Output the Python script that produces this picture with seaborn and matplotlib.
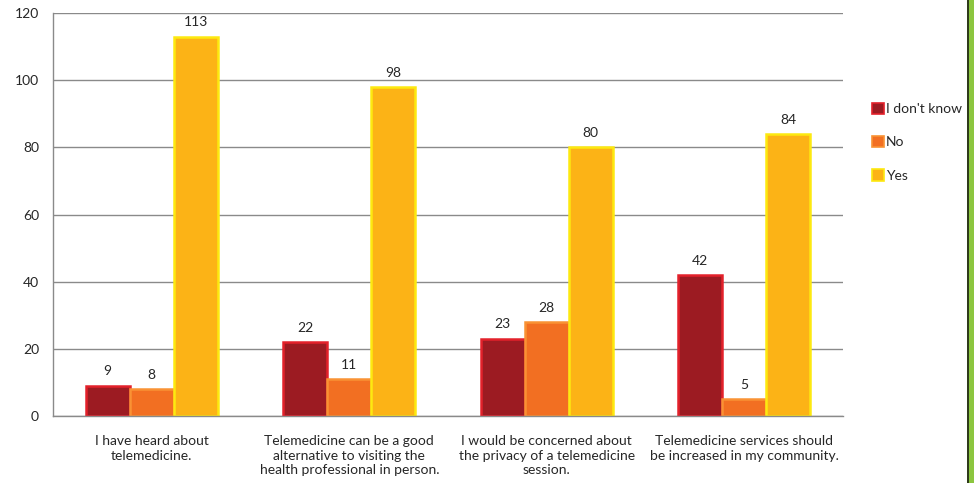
import matplotlib
matplotlib.use("Agg")
import matplotlib.pyplot as plt
import matplotlib.patches as mpatches
import numpy as np
import pandas as pd
import seaborn as sns

statements = [
    "I have heard about\ntelemedicine.",
    "Telemedicine can be a good\nalternative to visiting the\nhealth professional in person.",
    "I would be concerned about\nthe privacy of a telemedicine\nsession.",
    "Telemedicine services should\nbe increased in my community.",
]
responses = ["I don't know", "No", "Yes"]
dont_know = [9, 22, 23, 42]
no = [8, 11, 28, 5]
yes = [113, 98, 80, 84]

face_colors = ["#9c1b22", "#f26f22", "#fcb316"]
edge_colors = ["#e3212b", "#f99234", "#fde910"]

df = pd.DataFrame({
    "statement": statements * 3,
    "response": [r for r in responses for _ in statements],
    "count": dont_know + no + yes,
})

sns.set_style("white")
plt.rcParams["font.family"] = ["Lato", "DejaVu Sans"]
text_color = "#262626"

fig = plt.figure(figsize=(9.74, 4.83), dpi=100)
ax = fig.add_axes([53 / 974, 67 / 483, 790 / 974, 403 / 483])

sns.barplot(
    data=df, x="statement", y="count", hue="response",
    order=statements, hue_order=responses,
    palette=face_colors, width=0.67, gap=0, ax=ax, legend=False,
    saturation=1,
)

for cont, ec in zip(ax.containers, edge_colors):
    for patch in cont:
        patch.set_edgecolor(ec)
        patch.set_linewidth(1.8)
    ax.bar_label(cont, padding=6, fontsize=10, color=text_color)

ax.set_xlim(-0.5, len(statements) - 0.5)
ax.set_ylim(0, 120)
ax.set_yticks(np.arange(0, 121, 20))
ax.grid(axis="y", color="#8a8a8a", linewidth=1.0)
ax.set_axisbelow(True)
ax.set_xlabel("")
ax.set_ylabel("")

for side in ["top", "right"]:
    ax.spines[side].set_visible(False)
for side in ["left", "bottom"]:
    ax.spines[side].set_color("#8a8a8a")
    ax.spines[side].set_linewidth(1.0)

ax.tick_params(axis="y", length=6, color="#8a8a8a", labelsize=10, labelcolor=text_color, pad=4)
ax.tick_params(axis="x", which="major", length=0, labelsize=10, labelcolor=text_color, pad=14)
ax.set_xticks(np.arange(-0.5, len(statements)), minor=True)
ax.tick_params(axis="x", which="minor", length=5, color="#8a8a8a")
for lbl in ax.get_xticklabels():
    lbl.set_linespacing(1.25)

handles = [
    mpatches.Patch(facecolor=fc, edgecolor=ec, linewidth=1.2, label=r)
    for fc, ec, r in zip(face_colors, edge_colors, responses)
]
fig.legend(
    handles=handles, loc="upper left", bbox_to_anchor=(866 / 974, 1 - 97 / 483),
    frameon=False, fontsize=10, labelcolor=text_color,
    handlelength=0.9, handleheight=0.9, handletextpad=0.15, labelspacing=1.5,
    borderaxespad=0,
)

# green decorative strip along the right edge
fig.patches.append(mpatches.Rectangle((968 / 974, 0), 6 / 974, 1, transform=fig.transFigure,
                                      facecolor="#8cc63f", edgecolor="none"))
fig.patches.append(mpatches.Rectangle((967 / 974, 0), 1.5 / 974, 1, transform=fig.transFigure,
                                      facecolor="#2e3b1a", edgecolor="none"))

fig.savefig("out.png", dpi=100)
